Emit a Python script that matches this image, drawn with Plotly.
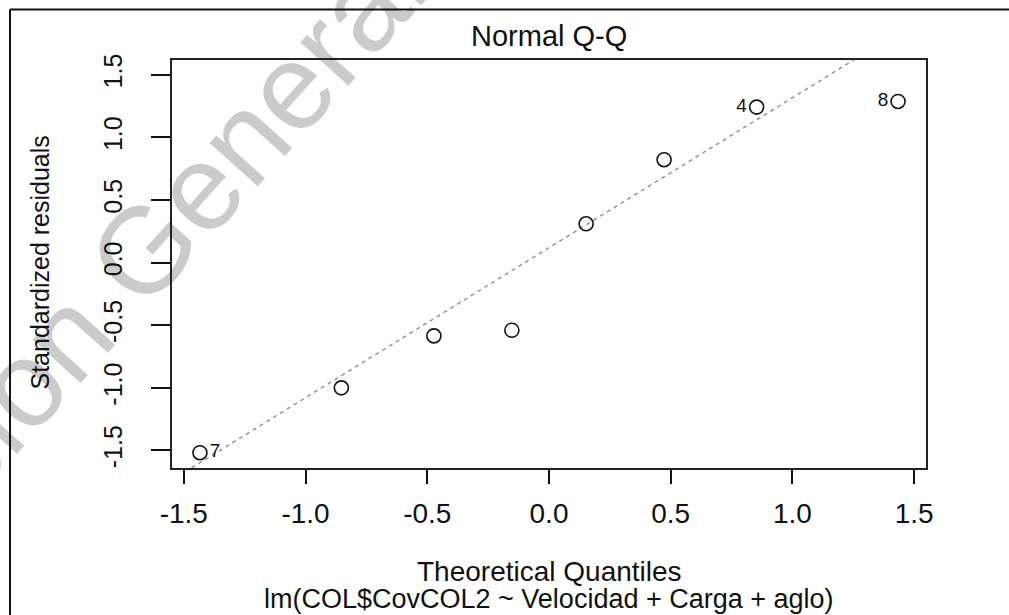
import numpy as np
import plotly.graph_objects as go
from statistics import NormalDist

# Normal Q-Q data for lm(COL$CovCOL2 ~ Velocidad + Carga + aglo), n = 8
theoretical = [-1.4338, -0.8529, -0.4728, -0.1525, 0.1525, 0.4728, 0.8529, 1.4338]
std_resid = [-1.518, -1.000, -0.585, -0.540, 0.310, 0.822, 1.242, 1.287]
obs_labels = ["7", "", "", "", "", "", "4", "8"]
label_side = ["middle right", "middle center", "middle center", "middle center",
              "middle center", "middle center", "middle left", "middle left"]

x_ticks = [-1.5, -1.0, -0.5, 0.0, 0.5, 1.0, 1.5]
x_tick_text = ["-1.5", "-1.0", "-0.5", "0.0", "0.5", "1.0", "1.5"]
y_ticks = [-1.5, -1.0, -0.5, 0.0, 0.5, 1.0, 1.5]
y_tick_text = ["-1.5", "-1.0", "-0.5", "0.0", "0.5", "1.0", "1.5"]

title_text = "Normal Q-Q"
x_title = "Theoretical Quantiles"
y_title = "Standardized residuals"
model_text = "lm(COL$CovCOL2 ~ Velocidad + Carga + aglo)"
watermark_text = "Dirección General de Bibliotecas UAQ"

# qqline: straight line through the first and third quartiles
q1, q3 = np.percentile(std_resid, [25, 75])
z1, z3 = NormalDist().inv_cdf(0.25), NormalDist().inv_cdf(0.75)
slope = (q3 - q1) / (z3 - z1)
intercept = q1 - slope * z1
line_x = [-2.0, 2.0]
line_y = [intercept + slope * v for v in line_x]

# page geometry (pixels)
W, H = 1009, 615
L, R, T, B = 172, 926, 60, 468
FONT = "Liberation Sans, Arial, Helvetica, sans-serif"


def px_x(p):
    return (p - L) / (R - L)


def px_y(p):
    return (B - p) / (B - T)


fig = go.Figure()

fig.add_trace(go.Scatter(
    x=line_x, y=line_y, mode="lines",
    line=dict(color="#8f8f8f", width=1.4, dash="4px,4px"),
    hoverinfo="skip",
))

fig.add_trace(go.Scatter(
    x=theoretical, y=std_resid, mode="markers+text",
    marker=dict(symbol="circle-open", size=14, color="#111111", line=dict(width=1.6)),
    text=obs_labels, textposition=label_side,
    textfont=dict(family=FONT, size=19, color="#111111"),
    cliponaxis=False,
))

fig.update_xaxes(
    range=[-1.5485, 1.5485], tickmode="array", tickvals=x_ticks, ticktext=x_tick_text,
    ticks="outside", ticklen=14, tickwidth=2, tickcolor="#111111",
    showline=True, linewidth=2, linecolor="#222222", mirror=True,
    showgrid=False, zeroline=False, tickfont=dict(family=FONT, size=28, color="#111111"),
    ticklabelstandoff=5,
)
fig.update_yaxes(
    range=[-1.640, 1.618], tickmode="array", tickvals=y_ticks, ticktext=y_tick_text,
    ticks="outside", ticklen=19, tickwidth=2, tickcolor="#111111", tickangle=-90,
    showline=True, linewidth=2, linecolor="#222222", mirror=True,
    showgrid=False, zeroline=False, tickfont=dict(family=FONT, size=25, color="#111111"),
    ticklabelstandoff=19,
)

annotations = [
    dict(text=title_text, x=0.5, y=px_y(36.5), font=dict(size=29)),
    dict(text=x_title, x=0.5, y=px_y(571), font=dict(size=28)),
    dict(text=model_text, x=0.5, y=px_y(599), font=dict(size=27)),
    dict(text=y_title, x=px_x(39.5), y=px_y(263), textangle=-90, font=dict(size=25)),
]
for a in annotations:
    a.update(xref="paper", yref="paper", xanchor="center", yanchor="middle", showarrow=False)
    a["font"].update(family=FONT, color="#111111")

# outer frame: only its left and top sides fall inside the page
frame = dict(color="#111111", width=2)
fig.add_shape(type="line", xref="paper", yref="paper",
              x0=px_x(10), x1=px_x(10), y0=px_y(9.5), y1=px_y(640), line=frame, layer="above")
fig.add_shape(type="line", xref="paper", yref="paper",
              x0=px_x(10), x1=px_x(1040), y0=px_y(9.5), y1=px_y(9.5), line=frame, layer="above")

# diagonal watermark behind the plot
cx, cy = px_x(432), px_y(-88)
fig.add_shape(type="rect", xref="paper", yref="paper",
              x0=cx - 0.001, x1=cx + 0.001, y0=cy - 0.001, y1=cy + 0.001,
              line=dict(width=0), fillcolor="rgba(0,0,0,0)", layer="below",
              label=dict(text=watermark_text, textangle=-48, textposition="middle center",
                         font=dict(family=FONT, size=122, color="#cbcbcb")))

fig.update_layout(
    width=W, height=H, autosize=False,
    margin=dict(l=L, r=W - R, t=T, b=H - B),
    paper_bgcolor="white", plot_bgcolor="rgba(0,0,0,0)",
    showlegend=False, annotations=annotations,
    font=dict(family=FONT, color="#111111"),
)

fig.write_html("out.html")
